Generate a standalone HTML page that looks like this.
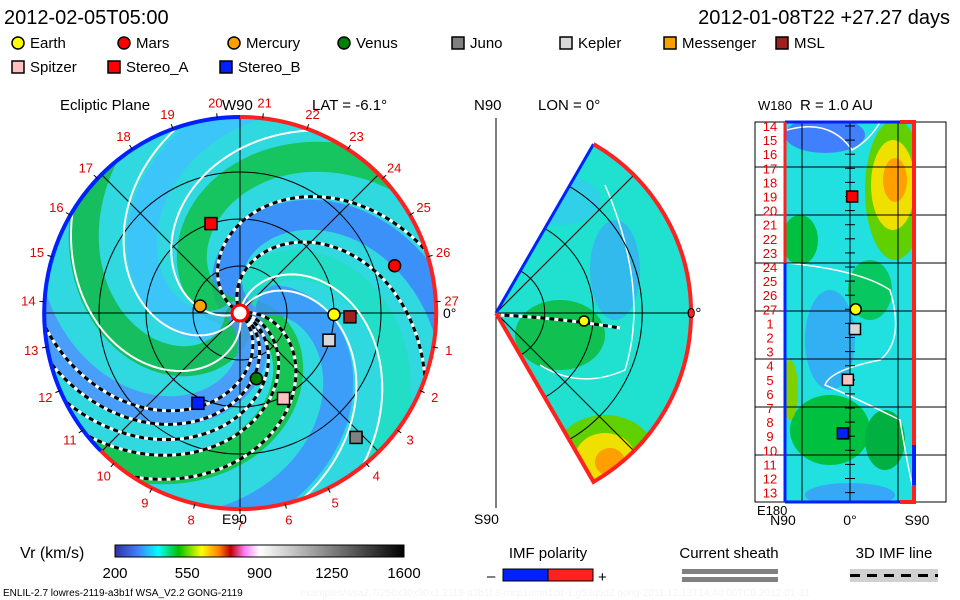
<!DOCTYPE html>
<html><head><meta charset="utf-8"><style>
body{margin:0;background:#fff;}
svg{display:block;font-family:"Liberation Sans",sans-serif;}
</style></head><body>
<svg id="s" width="960" height="600" viewBox="0 0 960 600" xmlns="http://www.w3.org/2000/svg">
<defs>
<clipPath id="cc"><circle cx="240" cy="313" r="196"/></clipPath>
<clipPath id="cw"><path d="M496,313 L593.5,144.1 A195,195 0 0 1 593.5,481.9 Z"/></clipPath>
<clipPath id="cr"><rect x="785" y="122" width="129" height="380"/></clipPath>
<linearGradient id="cbar" x1="0" x2="1">
<stop offset="0" stop-color="#3030a0"/><stop offset="0.08" stop-color="#4080ff"/><stop offset="0.15" stop-color="#00ffff"/><stop offset="0.22" stop-color="#00c000"/><stop offset="0.3" stop-color="#ffff00"/><stop offset="0.36" stop-color="#ff8000"/><stop offset="0.4" stop-color="#c00000"/><stop offset="0.45" stop-color="#ff80ff"/><stop offset="0.5" stop-color="#ffffff"/><stop offset="1" stop-color="#000000"/>
</linearGradient>
</defs>
<text x="4" y="24" font-size="20">2012-02-05T05:00</text>
<text x="950" y="24" font-size="20" text-anchor="end">2012-01-08T22 +27.27 days</text>
<g id="legend" font-size="15"></g>

<text x="60" y="110" font-size="15">Ecliptic Plane</text>
<text x="222" y="110" font-size="15">W90</text>
<text x="312" y="110" font-size="15">LAT = -6.1°</text>
<g clip-path="url(#cc)">
<circle cx="240" cy="313" r="196" fill="#30d8e0"/>
<g id="bands"></g>
</g>
<g id="eclgrid" fill="none" stroke="#000" stroke-width="1"></g>
<g id="spirals"></g>
<path d="M240,117 A196,196 0 0 0 101,451" fill="none" stroke="#0020ff" stroke-width="4"/>
<path d="M240,117 A196,196 0 1 1 101,451" fill="none" stroke="#ff2020" stroke-width="4"/>
<g id="lonlabels" fill="#e00000" font-size="13"></g>
<text x="222" y="524" font-size="14">E90</text>
<text x="443" y="318" font-size="14">0°</text>
<g id="planets"></g>

<text x="474" y="110" font-size="15">N90</text>
<text x="538" y="110" font-size="15">LON = 0°</text>
<g clip-path="url(#cw)">
<rect x="490" y="140" width="210" height="350" fill="#20e0d0"/>
<ellipse cx="615" cy="270" rx="25" ry="50" fill="#40a0ff" opacity="0.6"/>
<ellipse cx="560" cy="335" rx="45" ry="35" fill="#10c050"/>
<ellipse cx="560" cy="200" rx="40" ry="25" fill="#40c0ff" opacity="0.5"/>
<ellipse cx="605" cy="455" rx="50" ry="40" fill="#60d000"/>
<ellipse cx="605" cy="458" rx="30" ry="25" fill="#f0e000"/>
<ellipse cx="610" cy="462" rx="15" ry="14" fill="#ffa000"/>
<path d="M605,185 Q650,290 625,370 Q580,390 540,365" fill="none" stroke="#fff" stroke-width="1.5"/>
</g>
<g id="wgrid" fill="none" stroke="#000" stroke-width="1"></g>
<path d="M496,313 L593.5,144.1" stroke="#0020ff" stroke-width="3"/>
<path d="M593.5,144.1 A195,195 0 0 1 593.5,481.9 L496,313" fill="none" stroke="#ff2020" stroke-width="4"/>
<path d="M500,315 Q560,318 620,328" stroke="#fff" stroke-width="3" fill="none" stroke-dasharray="5,4"/>
<path d="M500,315 Q560,318 620,328" stroke="#000" stroke-width="3" fill="none" stroke-dasharray="5,4" stroke-dashoffset="4.5"/>
<circle cx="584" cy="321" r="5" fill="#ffff00" stroke="#000" stroke-width="1.5"/>
<text x="687" y="318" font-size="15">0°</text>
<text x="474" y="524" font-size="14">S90</text>

<text x="800" y="110" font-size="15">R = 1.0 AU</text>
<text x="758" y="110" font-size="13">W180</text>
<g clip-path="url(#cr)">
<rect x="785" y="122" width="129" height="380" fill="#20e0e0"/>
<ellipse cx="825" cy="135" rx="40" ry="18" fill="#4080ff"/>
<ellipse cx="895" cy="190" rx="30" ry="70" fill="#60d000"/>
<ellipse cx="893" cy="185" rx="22" ry="45" fill="#f0e000"/>
<ellipse cx="895" cy="180" rx="12" ry="22" fill="#ffa000"/>
<ellipse cx="800" cy="240" rx="18" ry="25" fill="#00c040"/>
<ellipse cx="870" cy="290" rx="22" ry="30" fill="#00c040" opacity="0.8"/>
<ellipse cx="830" cy="340" rx="25" ry="50" fill="#4090ff" opacity="0.6"/>
<ellipse cx="830" cy="430" rx="40" ry="35" fill="#00c040"/>
<ellipse cx="885" cy="440" rx="20" ry="30" fill="#00b040"/>
<ellipse cx="850" cy="495" rx="45" ry="12" fill="#4090ff" opacity="0.7"/>
<ellipse cx="790" cy="390" rx="8" ry="30" fill="#80d000"/>
<path d="M787,130 Q830,118 852,150 Q870,140 880,122" fill="none" stroke="#fff" stroke-width="1.5"/>
<path d="M787,263 Q860,270 890,290 Q905,340 880,360 Q830,370 825,385 Q860,400 900,420 Q910,480 914,490" fill="none" stroke="#fff" stroke-width="1.5"/>
</g>
<g id="rgrid" stroke="#000" stroke-width="1"></g>
<path d="M785,122 H900" stroke="#0020ff" stroke-width="3"/>
<path d="M900,122 H914 V445" fill="none" stroke="#ff2020" stroke-width="4"/>
<path d="M914,445 V485" stroke="#0020ff" stroke-width="4"/>
<path d="M914,485 V502 H900" fill="none" stroke="#ff2020" stroke-width="4"/>
<path d="M785,502 H900" stroke="#0020ff" stroke-width="3"/>
<path d="M785,122 V263" stroke="#ff2020" stroke-width="3"/>
<path d="M785,263 V502" stroke="#0020ff" stroke-width="3"/>
<g id="rlabels" fill="#e00000" font-size="13"></g>
<g id="rplanets"></g>
<text x="757" y="515" font-size="13">E180</text>
<text x="783" y="525" font-size="14" text-anchor="middle">N90</text>
<text x="850" y="525" font-size="14" text-anchor="middle">0°</text>
<text x="917" y="525" font-size="14" text-anchor="middle">S90</text>

<text x="20" y="558" font-size="16">Vr (km/s)</text>
<rect x="115" y="545" width="289" height="12" fill="url(#cbar)" stroke="#000"/>
<g id="cbticks" font-size="15" text-anchor="middle"></g>
<text x="548" y="558" font-size="15" text-anchor="middle">IMF polarity</text>
<text x="487" y="581" font-size="15">–</text>
<rect x="503" y="569" width="45" height="12" fill="#0020ff" stroke="#000"/>
<rect x="548" y="569" width="45" height="12" fill="#ff2020" stroke="#000"/>
<text x="598" y="582" font-size="15">+</text>
<text x="729" y="558" font-size="15" text-anchor="middle">Current sheath</text>
<rect x="682" y="569" width="96" height="5" fill="#808080"/>
<rect x="682" y="577" width="96" height="5" fill="#808080"/>
<text x="894" y="558" font-size="15" text-anchor="middle">3D IMF line</text>
<rect x="850" y="569" width="88" height="13" fill="#d0d0d0"/>
<line x1="850" y1="575.5" x2="938" y2="575.5" stroke="#000" stroke-width="3" stroke-dasharray="10,7"/>
<text x="3" y="596" font-size="10">ENLIL-2.7 lowres-2119-a3b1f WSA_V2.2 GONG-2119</text>
<text x="300" y="596" font-size="10" fill="#f4f4f4">examples/wsa2.7/256x30x90x1.2119-a3b1f.8-mcp1umn1cd-1.g53q5d2.gong-2011:12:13T14:40:00TC0    2012-01-31</text>
</svg>
<script>
var NS='http://www.w3.org/2000/svg';
function mk(p,t,a){var e=document.createElementNS(NS,t);for(var k in a)e.setAttribute(k,a[k]);p.appendChild(e);return e;}
var planetNames=['Earth','Mars','Mercury','Venus','Juno','Kepler','Messenger','MSL','Spitzer','Stereo_A','Stereo_B'];
var planetColors=['#ffff00','#ff0000','#ffa000','#008000','#808080','#d8d8d8','#ffa000','#a02020','#ffc0c0','#ff0000','#0020ff'];
var planetShapes=['c','c','c','c','s','s','s','s','s','s','s'];
var planetLon=[-1,17,170,-76,-47,-17,170,-2,-63,108,-115];
var planetR=[1.0,1.72,0.43,0.72,1.81,0.99,0.43,1.17,1.02,1.0,1.06];
var rPanelNames=['Stereo_A','Earth','Kepler','Spitzer','Stereo_B'];
var rPanelLat=[3,8,7,-3,-10];
var rPanelCarr=[5,13,14.4,18,21.8];
var rLonLabels=[14,15,16,17,18,19,20,21,22,23,24,25,26,27,1,2,3,4,5,6,7,8,9,10,11,12,13];
var cbTicks=[200,550,900,1250,1600];
var cx=240,cy=313,R=196,AU=94;
function px(lon,r){var a=lon*Math.PI/180;return [cx+r*AU*Math.cos(a),cy-r*AU*Math.sin(a)];}
var lg=document.getElementById('legend');
planetNames.forEach(function(n,i){
  var row=i<8?0:1;var x=row?[12,108,220][i-8]:[12,118,228,338,452,560,664,776][i];
  var y=row?72:48;
  var g=mk(lg,'g',{});
  
  
  if(planetShapes[i]=='c')mk(g,'circle',{cx:x+6,cy:y-5,r:6,fill:planetColors[i],stroke:'#000','stroke-width':1.5});
  else mk(g,'rect',{x:x,y:y-11,width:12,height:12,fill:planetColors[i],stroke:'#000','stroke-width':1.5});
  var t=mk(g,'text',{x:x+18,y:y});t.textContent=n;
});
var bands=document.getElementById('bands');
var bandCols=['#10c030','#4090ff','#20e0c0','#4080ff','#10c040','#40c0ff','#10b840','#5090ff'];
var bandStart=[0,45,90,135,180,225,270,315];
bandStart.forEach(function(a0,i){
  var pts=[];for(var r=0.05;r<=2.3;r+=0.05){var p=px(a0-r*57*1.1,r);pts.push(p[0].toFixed(1)+','+p[1].toFixed(1));}
  var e=mk(bands,'polyline',{points:pts.join(' '),fill:'none',stroke:bandCols[i],'stroke-width':30,'stroke-linecap':'round',opacity:0.8});
  
  
});
var eg=document.getElementById('eclgrid');
[0.5,1,1.5].forEach(function(r){mk(eg,'circle',{cx:cx,cy:cy,r:r*AU});});
for(var a=0;a<180;a+=45){var p1=px(a,R/AU),p2=px(a+180,R/AU);mk(eg,'line',{x1:p1[0],y1:p1[1],x2:p2[0],y2:p2[1]});}
var sp=document.getElementById('spirals');
var dashStart=[8,-10,-22,-34,-45,112,150];
var whiteStart=[60,80,200,240,280];
whiteStart.forEach(function(a0){var pts=[];for(var r=0.08;r<=2.2;r+=0.04){var p=px(a0-r*63,r);pts.push(p.join(','));}
  var e=mk(sp,'polyline',{points:pts.join(' '),fill:'none',stroke:'#fff','stroke-width':2});
  
  e.setAttribute('clip-path','url(#cc)');});
dashStart.forEach(function(a0){var pts=[];for(var r=0.08;r<=2.2;r+=0.04){var p=px(a0-r*63,r);pts.push(p.join(','));}
  var e=mk(sp,'polyline',{points:pts.join(' '),fill:'none',stroke:'#fff','stroke-width':3});
  e.setAttribute('clip-path','url(#cc)');
  
  var d=mk(sp,'polyline',{points:pts.join(' '),fill:'none',stroke:'#000','stroke-width':3,'stroke-dasharray':'5,4'});
  d.setAttribute('clip-path','url(#cc)');});
mk(sp,'circle',{cx:cx,cy:cy,r:8,fill:'#fff',stroke:'#ff0000','stroke-width':3});
var ll=document.getElementById('lonlabels');
rLonLabels.forEach(function(n,i){
  var ang=(90+ (20.5-(n<14?n+27:n))*(360/27))*Math.PI/180;
  var x=cx+(R+16)*Math.cos(ang),y=cy-(R+16)*Math.sin(ang)+5;
  var t=mk(ll,'text',{x:x.toFixed(1),y:y.toFixed(1),'text-anchor':'middle'});t.textContent=n;
  
  var x1=cx+R*Math.cos(ang),y1=cy-R*Math.sin(ang),x2=cx+(R+5)*Math.cos(ang),y2=cy-(R+5)*Math.sin(ang);
  mk(ll,'line',{x1:x1,y1:y1,x2:x2,y2:y2,stroke:'#000'});
});
var pg=document.getElementById('planets');
planetNames.forEach(function(n,i){
  if(n=='Messenger')return;
  var p=px(planetLon[i],planetR[i]);var e;
  if(planetShapes[i]=='c')e=mk(pg,'circle',{cx:p[0],cy:p[1],r:6,fill:planetColors[i],stroke:'#000','stroke-width':1.5});
  else e=mk(pg,'rect',{x:p[0]-6,y:p[1]-6,width:12,height:12,fill:planetColors[i],stroke:'#000','stroke-width':1.5});
  
  
});
var wg=document.getElementById('wgrid');
[48.75,97.5,146.25].forEach(function(r){mk(wg,'path',{d:'M496,'+(313-r)+' A'+r+','+r+' 0 0 1 496,'+(313+r),'clip-path':'url(#cw)'});});
[-45,0,45].forEach(function(a){var t=a*Math.PI/180;mk(wg,'line',{x1:496,y1:313,x2:496+195*Math.cos(t),y2:313-195*Math.sin(t)});});
mk(wg,'line',{x1:496,y1:118,x2:496,y2:508});
var rg=document.getElementById('rgrid');
mk(rg,'rect',{x:755,y:122,width:191,height:380,fill:'none'});
for(var k=0;k<7;k++){var y=167+k*48;mk(rg,'line',{x1:755,y1:y,x2:946,y2:y});}
[802,850,898].forEach(function(x){mk(rg,'line',{x1:x,y1:122,x2:x,y2:502});});
var rl=document.getElementById('rlabels');
function ry(idx){return 126+idx*14.1;}
rLonLabels.forEach(function(n,i){var y=ry(i);
  var t=mk(rl,'text',{x:770,y:y+5,'text-anchor':'middle'});t.textContent=n;
  
  mk(rl,'line',{x1:845,y1:y,x2:855,y2:y,stroke:'#000'});});
var rp=document.getElementById('rplanets');
rPanelNames.forEach(function(n,i){var ix=planetNames.indexOf(n);
  var x=850+rPanelLat[i]*(64/90),y=ry(rPanelCarr[i]);
  var e;
  if(planetShapes[ix]=='c')e=mk(rp,'circle',{cx:x,cy:y,r:5.5,fill:planetColors[ix],stroke:'#000','stroke-width':1.5});
  else e=mk(rp,'rect',{x:x-5.5,y:y-5.5,width:11,height:11,fill:planetColors[ix],stroke:'#000','stroke-width':1.5});
  });
var cb=document.getElementById('cbticks');
cbTicks.forEach(function(v){var x=115+(v-200)/1400*289;var t=mk(cb,'text',{x:x,y:578});t.textContent=v;
  });
</script>
</body></html>
